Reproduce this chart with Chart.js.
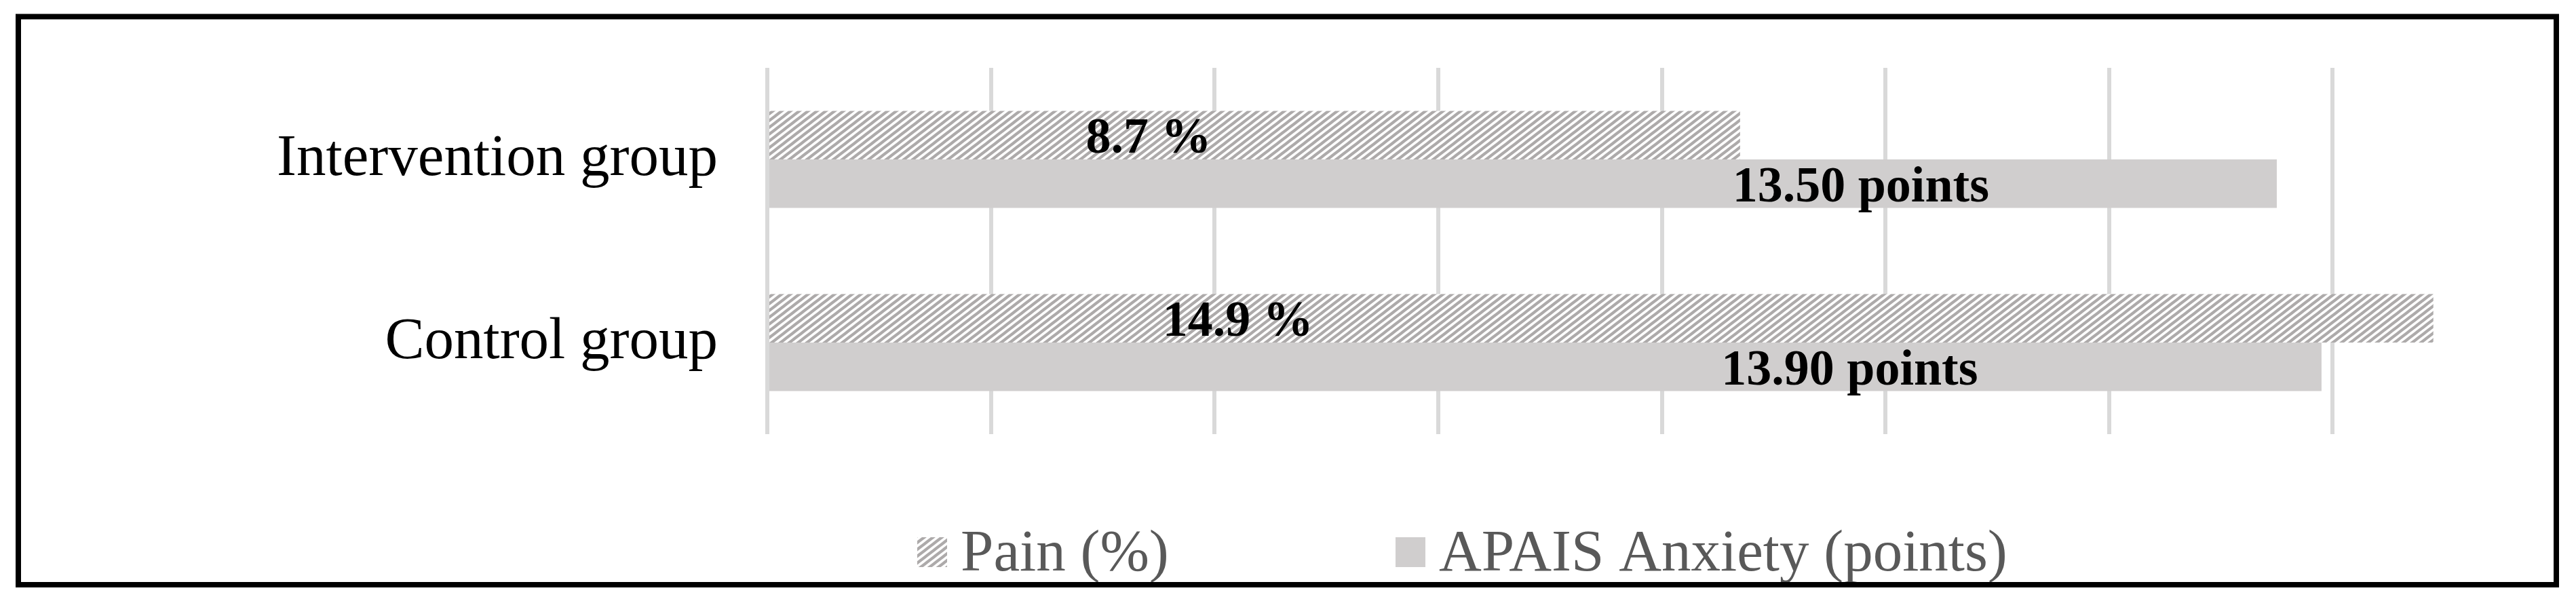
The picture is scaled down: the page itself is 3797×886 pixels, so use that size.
<!DOCTYPE html>
<html lang="en">
<head>
<meta charset="UTF-8">
<title>Pain and APAIS anxiety by group</title>
<script src="https://cdn.jsdelivr.net/npm/chart.js"></script>
<style>
  html, body { margin: 0; padding: 0; background: #fff; }
  #wrap { position: relative; width: 3797px; height: 886px; }
</style>
</head>
<body>
<div id="wrap"><canvas id="chart" width="3797" height="886"></canvas></div>
<script>
const groups = ['Intervention group', 'Control group'];
const painPct = [8.7, 14.9];
const apaisPoints = [13.5, 13.9];
const seriesNames = ['Pain (%)', 'APAIS Anxiety (points)'];
// the value labels were placed by hand in the original, so keep where they sit (axis units)
const painLabelAt = [3.41, 4.21];
const apaisLabelAt = [9.78, 9.68];

const canvas = document.getElementById('chart');
const ctx = canvas.getContext('2d');

// wide upward diagonal hatch, like the Excel pattern fill
function makeHatch() {
    const w = 13, h = 10;
    const tile = document.createElement('canvas');
    tile.width = w;
    tile.height = h;
    const g = tile.getContext('2d');
    g.fillStyle = '#ffffff';
    g.fillRect(0, 0, w, h);
    g.strokeStyle = '#adaaaa';
    g.lineWidth = 4.2;
    for (let k = -1; k <= 1; k++) {
        g.beginPath();
        g.moveTo(k * w - w, 2 * h);
        g.lineTo(k * w + 2 * w, -h);
        g.stroke();
    }
    return ctx.createPattern(tile, 'repeat');
}
const hatchFill = makeHatch();
const solidFill = '#d0cece';

const serif = "'Liberation Serif', 'Times New Roman', serif";

const valueLabels = {
    id: 'valueLabels',
    afterDatasetsDraw(chart) {
        const c = chart.ctx;
        const x = chart.scales.x;
        const sets = [
            [painPct, painLabelAt, v => v.toFixed(1) + ' %'],
            [apaisPoints, apaisLabelAt, v => v.toFixed(2) + ' points']
        ];
        c.save();
        c.font = 'bold 74px ' + serif;
        c.fillStyle = '#000';
        c.textAlign = 'center';
        c.textBaseline = 'alphabetic';
        sets.forEach(([vals, at, fmt], d) => {
            chart.getDatasetMeta(d).data.forEach((bar, i) => {
                c.fillText(fmt(vals[i]), x.getPixelForValue(at[i]), bar.y + 26);
            });
        });
        c.restore();
    }
};

// legend drawn by hand so the keys land where Excel put them
const boxLegend = {
    id: 'boxLegend',
    afterDraw(chart) {
        const c = chart.ctx;
        const spots = [1352, 2057];
        c.save();
        c.font = '87px ' + serif;
        c.textBaseline = 'alphabetic';
        chart.data.datasets.forEach((ds, i) => {
            c.fillStyle = ds.backgroundColor;
            c.fillRect(spots[i], 792, 44, 44);
            c.fillStyle = '#595959';
            c.fillText(ds.label, spots[i] + 64, 841);
        });
        c.restore();
    }
};

const frame = {
    id: 'frame',
    afterDraw(chart) {
        const c = chart.ctx;
        c.save();
        c.strokeStyle = '#000';
        c.lineWidth = 8;
        c.strokeRect(27, 24.5, 3741, 837.5);
        c.restore();
    }
};

new Chart(ctx, {
    type: 'bar',
    data: {
        labels: groups,
        datasets: [
            { label: seriesNames[0], data: painPct, backgroundColor: hatchFill, borderWidth: 0 },
            { label: seriesNames[1], data: apaisPoints, backgroundColor: solidFill, borderWidth: 0 }
        ]
    },
    options: {
        indexAxis: 'y',
        responsive: false,
        animation: false,
        layout: { padding: { top: 100, right: 29, bottom: 246, left: 0 } },
        datasets: { bar: { categoryPercentage: 0.53, barPercentage: 1 } },
        plugins: {
            legend: { display: false },
            tooltip: { enabled: false }
        },
        scales: {
            x: {
                min: 0,
                max: 16,
                ticks: { stepSize: 2, display: false },
                grid: { color: '#d9d9d9', lineWidth: 6, drawTicks: false },
                border: { display: false },
                afterFit: s => { s.height = 0; s.paddingLeft = 0; s.paddingRight = 0; }
            },
            y: {
                ticks: { color: '#000', font: { family: serif, size: 87 }, padding: 73 },
                grid: { display: false, drawTicks: false },
                border: { display: false },
                afterFit: s => { s.width = 1131; s.paddingTop = 0; s.paddingBottom = 0; }
            }
        }
    },
    plugins: [valueLabels, boxLegend, frame]
});
</script>
</body>
</html>
